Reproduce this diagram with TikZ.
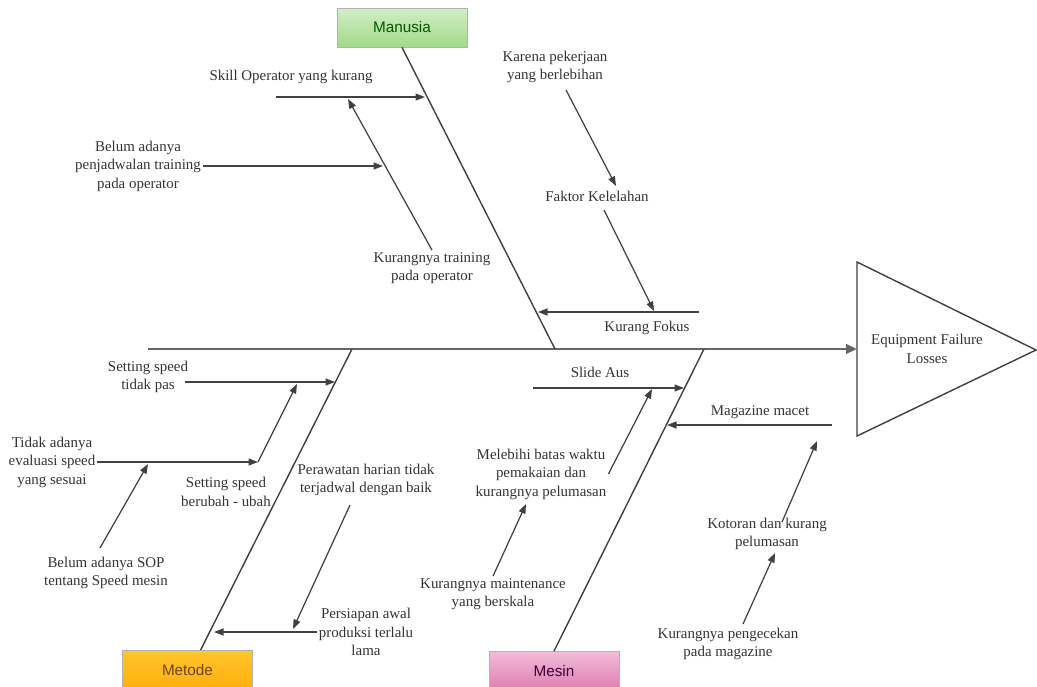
\documentclass[tikz,border=0pt]{standalone}
\usepackage{fontspec}
\setmainfont{Liberation Serif}
\newfontfamily\boxfont{Liberation Sans}
\usetikzlibrary{arrows.meta,calc}

\definecolor{linegray}{HTML}{404040}
\definecolor{mantop}{HTML}{D2EEC6}
\definecolor{manbot}{HTML}{A2D98A}
\definecolor{mettop}{HTML}{FFC62A}
\definecolor{metbot}{HTML}{FFAE0C}
\definecolor{mestop}{HTML}{F2BCD8}
\definecolor{mesbot}{HTML}{DE7CB0}

\begin{document}
\begin{tikzpicture}[x=0.02cm, y=-0.02cm,
    cause/.style={align=center, inner sep=1pt, text=black!80, font=\fontsize{8.5}{10.5}\selectfont},
    catbox/.style={draw=black!30, rectangle, minimum width=2.6cm, minimum height=0.78cm, inner sep=0pt, font=\boxfont\fontsize{8.7}{10}\selectfont},
    spine/.style={draw=black!60, line width=1.4pt},
    bone/.style={draw=linegray, line width=0.8pt},
    arr/.style={draw=linegray, line width=0.7pt, -{Triangle[length=1.9mm,width=1.4mm]}}]

    \useasboundingbox (0,0) rectangle (1037,686);

    % Head and spine
    \coordinate (tail) at (148,349);
    \coordinate (head) at (857,349);
    \draw[spine, -{Triangle[length=2.2mm,width=1.9mm]}] (tail) -- (head);
    \draw[bone] (857,262) -- (1036,350) -- (857,436) -- cycle;
    \node[cause] (effect) at (927,349) {Equipment Failure\\Losses};

    % Manusia
    \node[catbox, top color=mantop, bottom color=manbot, text=green!35!black] (manusia) at (402,27.5) {Manusia};
    \coordinate (man-top) at (555,349);
    \draw[bone] (manusia.south) -- (man-top);

    \node[cause] (skill) at (291,77) {Skill Operator yang kurang};
    \coordinate (skill-s) at (276,97);
    \coordinate (skill-e) at (425,97);
    \coordinate (skill-m) at (348,99);
    \draw[arr] (skill-s) -- (skill-e);

    \node[cause] (kurtrain) at (432,268) {Kurangnya training\\pada operator};
    \draw[arr] (kurtrain.north) -- (skill-m);

    \node[cause] (jadwal) at (138,166) {Belum adanya\\penjadwalan training\\pada operator};
    \coordinate (train-m) at (383,166);
    \draw[arr] (jadwal.east) -- (jadwal.east -| train-m);

    \node[cause] (karena) at (555,67) {Karena pekerjaan\\yang berlebihan};
    \node[cause] (faktor) at (597,196) {Faktor Kelelahan};
    \coordinate (karena-s) at (566,90);
    \coordinate (faktor-n) at (616,186);
    \draw[arr] (karena-s) -- (faktor-n);

    \node[cause] (fokus) at (647,328) {Kurang Fokus};
    \coordinate (fokus-s) at (699,312);
    \coordinate (fokus-e) at (538,312);
    \coordinate (fokus-m) at (654,311);
    \coordinate (faktor-s) at (604,210);
    \draw[arr] (fokus-s) -- (fokus-e);
    \draw[arr] (faktor-s) -- (fokus-m);

    % Metode
    \node[catbox, top color=mettop, bottom color=metbot, text=brown!55!black] (metode) at (187.5,670) {Metode};
    \coordinate (met-top) at (352,349);
    \draw[bone] ($(metode.north)+(13,0)$) -- (met-top);

    \node[cause] (sspas) at (148,377) {Setting speed\\tidak pas};
    \coordinate (pas-s) at (185,382);
    \coordinate (pas-e) at (335,382);
    \coordinate (pas-m) at (297,384);
    \draw[arr] (pas-s) -- (pas-e);

    \node[cause] (evalu) at (52,462) {Tidak adanya\\evaluasi speed\\yang sesuai};
    \coordinate (ubah-s) at (258,462);
    \coordinate (evalu-m) at (148,464);
    \draw[arr] (evalu.east) -- (evalu.east -| ubah-s);

    \node[cause] (berubah) at (226,492) {Setting speed\\berubah - ubah};
    \draw[arr] (ubah-s) -- (pas-m);

    \node[cause] (sop) at (106,573) {Belum adanya SOP\\tentang Speed mesin};
    \coordinate (sop-n) at (100,548);
    \draw[arr] (sop-n) -- (evalu-m);

    \node[cause] (siap) at (366,632) {Persiapan awal\\produksi terlalu\\lama};
    \coordinate (siap-e) at (214,631);
    \coordinate (siap-m) at (293,629);
    \draw[arr] (siap.west) -- (siap.west -| siap-e);

    \node[cause] (rawat) at (366,480) {Perawatan harian tidak\\terjadwal dengan baik};
    \coordinate (rawat-s) at (350,505);
    \draw[arr] (rawat-s) -- (siap-m);

    % Mesin
    \node[catbox, top color=mestop, bottom color=mesbot, text=violet!45!black] (mesin) at (554,671) {Mesin};
    \coordinate (mes-top) at (704,349);
    \draw[bone] (mesin.north) -- (mes-top);

    \node[cause] (aus) at (600,372) {Slide Aus};
    \coordinate (aus-s) at (533,388);
    \coordinate (aus-e) at (684,388);
    \coordinate (aus-m) at (652,389);
    \draw[arr] (aus-s) -- (aus-e);

    \node[cause] (lebih) at (541,474) {Melebihi batas waktu\\pemakaian dan\\kurangnya pelumasan};
    \coordinate (lebih-b) at (526,504);
    \draw[arr] (lebih.east) -- (aus-m);

    \node[cause] (maint) at (493,594) {Kurangnya maintenance\\yang berskala};
    \draw[arr] (maint.north) -- (lebih-b);

    \node[cause] (macet) at (760,412) {Magazine macet};
    \coordinate (macet-s) at (832,425);
    \coordinate (macet-e) at (667,425);
    \coordinate (macet-m) at (817,441);
    \draw[arr] (macet-s) -- (macet-e);

    \node[cause] (kotor) at (767,534) {Kotoran dan kurang\\pelumasan};
    \coordinate (kotor-s) at (782,522);
    \coordinate (kotor-m) at (775,553);
    \draw[arr] (kotor-s) -- (macet-m);

    \node[cause] (cek) at (728,644) {Kurangnya pengecekan\\pada magazine};
    \coordinate (cek-n) at (743,624);
    \draw[arr] (cek-n) -- (kotor-m);

\end{tikzpicture}
\end{document}
